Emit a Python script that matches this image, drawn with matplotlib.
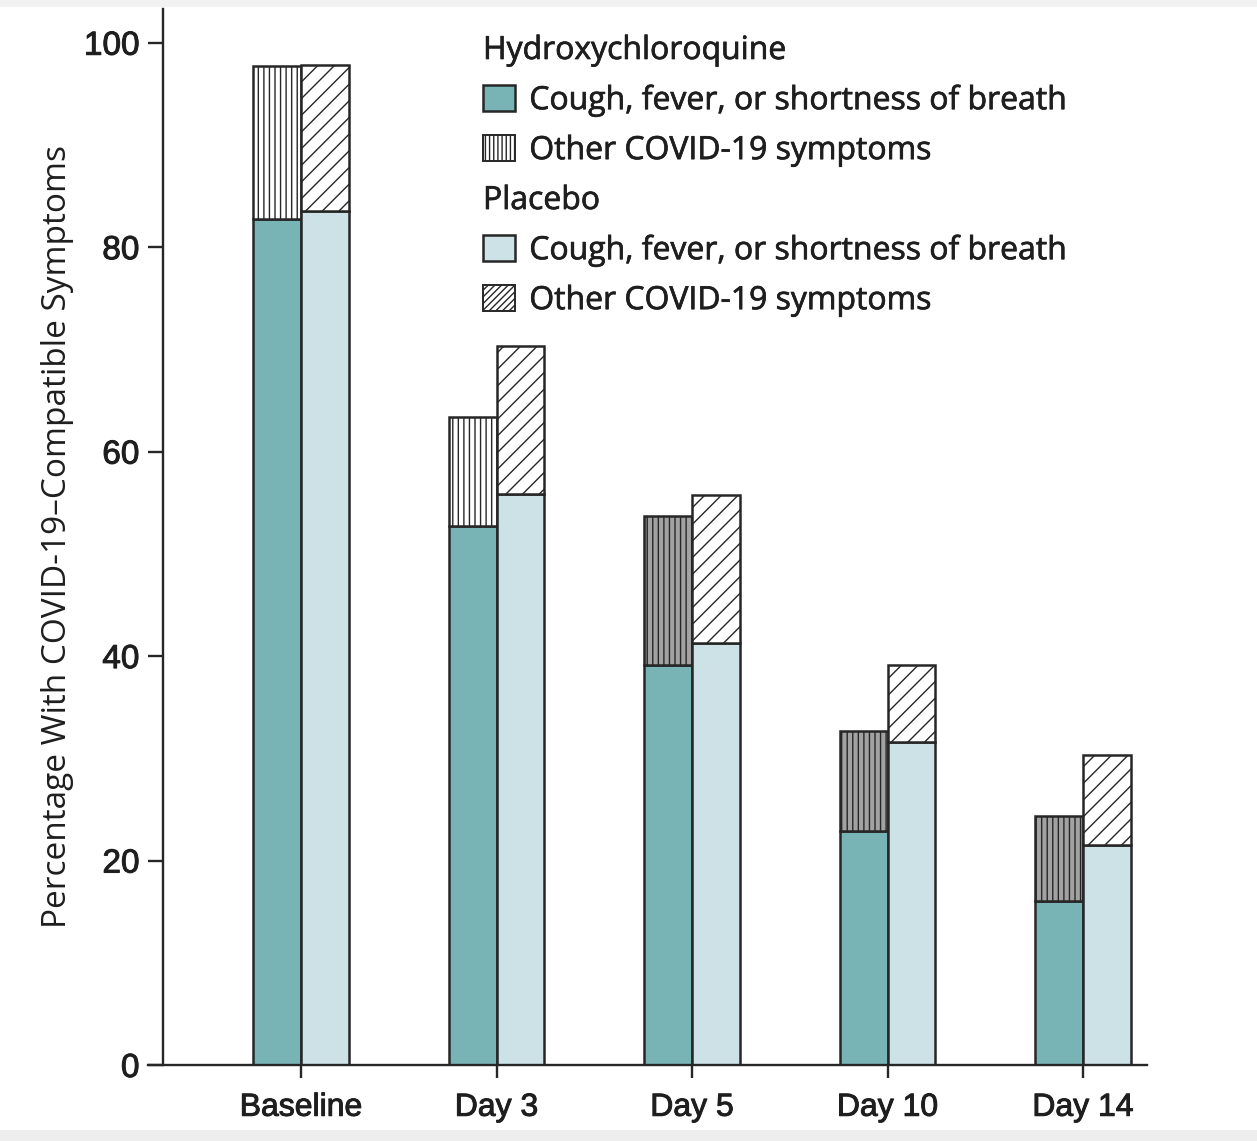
import matplotlib.pyplot as plt
import matplotlib.patheffects as pe
from matplotlib.patches import Patch, Rectangle

# data (percent of participants)
days = ["Baseline", "Day 3", "Day 5", "Day 10", "Day 14"]
hcq_cough = [82.8, 52.7, 39.1, 22.9, 16.0]
hcq_total = [97.7, 63.4, 53.7, 32.7, 24.4]
pbo_cough = [83.5, 55.9, 41.3, 31.6, 21.5]
pbo_total = [97.8, 70.3, 55.8, 39.1, 30.3]

hcq_other = [t - c for t, c in zip(hcq_total, hcq_cough)]
pbo_other = [t - c for t, c in zip(pbo_total, pbo_cough)]

teal = "#78B4B6"
light = "#CDE2E6"
edge = "#262626"
ink = "#1e1e1e"
# the later hydroxychloroquine "other" bars print darker in the original
hcq_other_face = ["white", "white", "#a2a2a2", "#a2a2a2", "#a2a2a2"]

plt.rcParams["hatch.linewidth"] = 1.0
text_font = ["Open Sans", "DejaVu Sans"]
tick_font = ["Liberation Sans Narrow", "Liberation Sans", "DejaVu Sans"]
thick = [pe.withStroke(linewidth=0.7, foreground=ink)]

fig = plt.figure(figsize=(12.57, 11.41), dpi=100)
W, H = 1257, 1141
ax = fig.add_axes([148 / W, 1 - 1065 / H, (1147 - 148) / W, (1065 - 9) / H])

x = list(range(len(days)))
w = 0.245
xh = [i - w / 2 for i in x]
xp = [i + w / 2 for i in x]

ax.bar(xh, hcq_cough, w, color=teal, edgecolor=edge, linewidth=1.8)
ax.bar(xh, hcq_other, w, bottom=hcq_cough, color=hcq_other_face,
       edgecolor=edge, linewidth=1.8, hatch="|||")
ax.bar(xp, pbo_cough, w, color=light, edgecolor=edge, linewidth=1.8)
ax.bar(xp, pbo_other, w, bottom=pbo_cough, color="white",
       edgecolor=edge, linewidth=1.8, hatch="//")

# axes styling
ax.set_xlim(-0.783, 4.327)
ax.set_ylim(0, 103.3)
ax.spines["top"].set_visible(False)
ax.spines["right"].set_visible(False)
ax.spines["left"].set_position(("data", -0.706))
for s in ["left", "bottom"]:
    ax.spines[s].set_linewidth(1.7)
    ax.spines[s].set_color(edge)

ax.set_yticks([0, 20, 40, 60, 80, 100])
ax.set_xticks(x)
ax.set_xticklabels(days)
ax.tick_params(axis="y", length=11, width=1.7, color=edge, pad=6,
               labelsize=24, labelcolor=ink)
ax.tick_params(axis="x", length=9, width=1.7, color=edge, pad=11,
               labelsize=23, labelcolor=ink)
for lab in ax.get_xticklabels() + ax.get_yticklabels():
    lab.set_family(tick_font)
    lab.set_path_effects(thick)

ax.set_ylabel("Percentage With COVID-19\u2013Compatible Symptoms",
              fontsize=24, family=text_font, color=ink)
ax.yaxis.set_label_coords(-0.074, 0.5)

# legend with two group headers
handles = [
    Patch(visible=False),
    Patch(facecolor=teal, edgecolor=edge, linewidth=1.8),
    Patch(facecolor="white", edgecolor=edge, linewidth=1.4, hatch="||||"),
    Patch(visible=False),
    Patch(facecolor=light, edgecolor=edge, linewidth=1.8),
    Patch(facecolor="white", edgecolor=edge, linewidth=1.4, hatch="/////"),
]
labels = ["Hydroxychloroquine", "Cough, fever, or shortness of breath",
          "Other COVID-19 symptoms", "Placebo",
          "Cough, fever, or shortness of breath", "Other COVID-19 symptoms"]
fs = 23
leg = ax.legend(handles, labels, loc="upper left",
                bbox_to_anchor=(483 / W, 1 - 34 / H),
                bbox_transform=fig.transFigure, frameon=False,
                borderpad=0, borderaxespad=0,
                handlelength=1.0, handleheight=0.9, handletextpad=0.45,
                labelspacing=0.53, prop={"family": text_font, "size": fs})
shift = (1.0 + 0.45) * fs * fig.dpi / 72
for t in leg.get_texts():
    t.set_color(ink)
    t.set_path_effects([pe.withStroke(linewidth=0.5, foreground=ink)])
    if t.get_text() in ("Hydroxychloroquine", "Placebo"):
        t.set_position((-shift, 0))

# screenshot border bands
fig.patches.append(Rectangle((0, 1 - 7 / H), 1, 7 / H, transform=fig.transFigure,
                             facecolor="#f2f2f2", edgecolor="none"))
fig.patches.append(Rectangle((0, 0), 1, 11 / H, transform=fig.transFigure,
                             facecolor="#eeeeee", edgecolor="none"))

fig.savefig("out.png", dpi=100)
